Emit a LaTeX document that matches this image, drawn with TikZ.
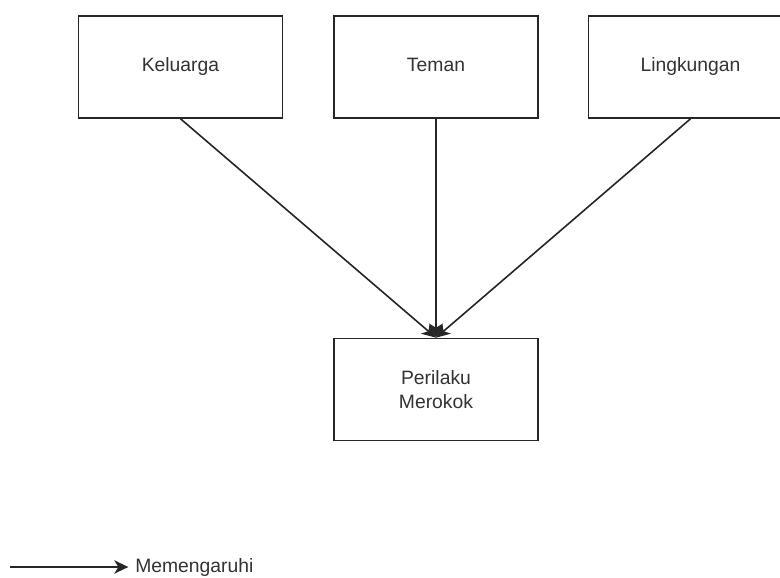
\documentclass[tikz,border=0pt]{standalone}
\usepackage{fontspec}
\setmainfont{Liberation Sans}
\usetikzlibrary{arrows.meta}
\begin{document}
\begin{tikzpicture}[x=0.75pt,y=-0.75pt,
  box/.style={draw=black!85, line width=1.2pt, fill=white, minimum width=153pt, minimum height=76.5pt, inner sep=0pt, align=center, text=black!80, font=\fontsize{14.5}{18}\selectfont},
  onebox/.style={box, text height=10.5pt, text depth=3pt},
  conn/.style={draw=black!85, line width=1.2pt, -{Stealth[length=10.5pt,width=10pt,inset=3pt]}},
  lbl/.style={text=black!80, font=\fontsize{14.5}{18}\selectfont, inner sep=0pt}]
\clip (0,0) rectangle (780,577);
\fill[white] (0,0) rectangle (780,577);
\node[onebox] (kel) at (180.5,67) {Keluarga};
\node[onebox] (tem) at (436,67) {Teman};
\node[onebox] (lin) at (690.5,67) {Lingkungan};
\node[box] (per) at (436,389.5) {Perilaku\\Merokok};
\draw[conn] (kel.south) -- (per.north);
\draw[conn] (tem.south) -- (per.north);
\draw[conn] (lin.south) -- (per.north);
\coordinate (ls) at (10,567);
\node[lbl, anchor=west] (lt) at (135,567) {Memengaruhi};
\draw[conn] (ls) -- ([xshift=-5pt]lt.west);
\end{tikzpicture}
\end{document}
